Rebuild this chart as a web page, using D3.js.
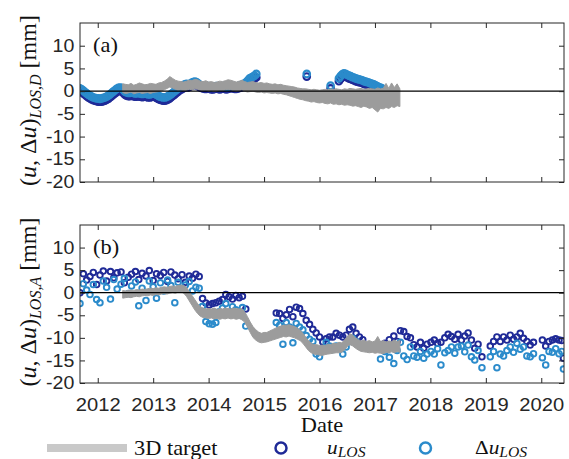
<!DOCTYPE html>
<html><head><meta charset="utf-8">
<script src="https://cdn.jsdelivr.net/npm/d3@7"></script>
<style>body{margin:0;background:#fff} svg{display:block}</style>
</head><body>
<svg id="chart" width="569" height="459"></svg>
<script>
// ---------- axis ticks ----------
const yearTicks = [2012, 2013, 2014, 2015, 2016, 2017, 2018, 2019, 2020];
const valueTicks = [10, 5, 0, -5, -10, -15, -20];

// ---------- panel (a): descending geometry, dense series ----------
// regular acquisition runs: start year, values (mm) every runStep years
const runStep = 0.03;
const runA1Start = 2011.68;
const runA1U = [0.0,-0.2,-0.5,-0.8,-1.1,-1.4,-1.6,-1.8,-2.0,-2.1,-2.2,-2.3,-2.3,-2.3,-2.2,-2.1,-1.9,-1.7,-1.4,-1.1,
  -0.8,-0.5,-0.2,0.0,0.1,0.0,-0.4,-0.8,-1.0,-1.1,-1.1,-1.0,-1.1,-1.2,-1.2,-1.1,-1.2,-1.3,-1.3,-1.2,
  -1.3,-1.4,-1.4,-1.3,-1.2,-1.3,-1.5,-1.7,-1.9,-2.0,-2.1,-2.1,-2.0,-1.8,-1.6,-1.3,-1.0,-0.7,-0.4,-0.1,
  0.2,0.4,0.6,0.8,1.0];
const runA1D = [0.6,0.4,0.1,-0.2,-0.5,-0.8,-1.0,-1.2,-1.4,-1.5,-1.6,-1.6,-1.7,-1.6,-1.5,-1.4,-1.2,-1.0,-0.7,-0.4,
  -0.1,0.2,0.5,0.7,0.8,0.7,0.3,-0.1,-0.3,-0.4,-0.4,-0.3,-0.4,-0.5,-0.5,-0.4,-0.5,-0.6,-0.6,-0.5,
  -0.6,-0.7,-0.7,-0.6,-0.5,-0.6,-0.8,-1.0,-1.2,-1.3,-1.4,-1.4,-1.3,-1.1,-0.9,-0.6,-0.3,0.0,0.3,0.6,
  0.9,1.1,1.3,1.5,1.6];
const runA2Start = 2013.63;
const runA2U = [0.8,1.0,1.2,1.3,1.4,1.3,1.1,0.9,0.7,0.6,0.5,0.5,0.6,0.5,0.4,0.4,0.5,0.6,0.5,0.4,
  0.5,0.6,0.5,0.4,0.5,0.6,0.7,0.6,0.5,0.5,0.6,0.7,0.8,0.9,1.0,1.3,1.7,2.1,2.4,2.6,2.8,3.0];
const runA2D = [1.3,1.6,1.8,2.0,2.1,2.0,1.7,1.4,1.2,1.1,1.0,1.0,1.1,1.0,0.9,0.9,1.0,1.1,1.0,0.9,
  1.0,1.1,1.0,0.9,1.0,1.1,1.2,1.1,1.0,1.0,1.1,1.2,1.3,1.5,1.7,2.0,2.4,2.8,3.0,3.2,3.4,3.8];
const sparseADates = [2015.77, 2016.20];
const sparseAU = [3.2, 0.6];
const sparseAD = [3.8, 1.2];
const runA4Start = 2016.35;
const runA4U = [2.2,2.7,3.1,3.3,3.2,3.0,2.8,2.7,2.5,2.4,2.2,2.1,2.0,1.9,1.8,1.6,1.5,1.4,1.3,1.1,1.0,0.9,0.7,0.5,0.3,0.2,0.1];
const runA4D = [2.8,3.3,3.7,3.9,3.8,3.6,3.4,3.3,3.1,3.0,2.8,2.7,2.6,2.5,2.4,2.2,2.1,2.0,1.9,1.7,1.6,1.5,1.3,1.1,0.9,0.8,0.6];

// 3D target projected on LOS: envelope of daily solutions, every 0.05 yr from 2012.45
const targetStart = 2012.45, targetStep = 0.05;
const targetAHi = [1.6,1.5,1.4,1.7,1.3,1.5,1.8,1.6,1.4,1.5,1.7,1.6,
  1.5,1.8,1.9,2.2,2.6,3.2,2.8,2.4,2.2,2.1,
  2.0,2.2,2.4,2.3,2.6,2.5,2.2,2.1,2.3,2.0,
  2.1,1.9,2.0,2.2,2.1,2.3,2.5,2.4,2.2,2.0,
  2.2,2.4,2.1,1.9,2.0,2.1,1.9,1.8,1.9,1.7,
  1.8,1.6,1.5,1.6,1.4,1.5,1.3,1.2,1.1,1.0,
  0.9,0.7,0.6,0.5,0.5,0.4,0.3,0.4,0.3,0.2,
  0.3,0.4,0.3,0.5,0.4,0.5,0.4,0.3,0.5,0.4,
  0.6,0.5,0.4,0.5,0.6,0.4,0.5,0.6,0.5,0.4,
  0.7,0.5,0.6,1.7,0.6,1.8,0.8,1.6,0.5];
const targetALo = [-0.3,-0.5,-0.4,-0.2,-0.6,-0.4,-0.3,-0.5,-0.4,-0.3,-0.5,-0.3,
  -0.2,-0.1,0.1,0.3,0.6,0.9,0.7,0.4,0.2,0.3,
  0.1,0.2,0.4,0.3,0.5,0.4,0.2,0.1,0.2,0.0,
  0.1,-0.1,0.0,0.2,0.1,0.3,0.4,0.3,0.1,0.0,
  0.1,0.3,0.0,-0.2,-0.1,0.0,-0.2,-0.3,-0.2,-0.4,
  -0.3,-0.4,-0.5,-0.4,-0.6,-0.5,-0.7,-0.8,-1.0,-1.2,
  -1.4,-1.6,-1.8,-1.9,-2.1,-2.2,-2.4,-2.3,-2.5,-2.6,
  -2.5,-2.7,-2.8,-2.6,-2.9,-2.8,-3.0,-2.9,-3.1,-3.0,
  -3.1,-3.3,-3.2,-3.4,-3.6,-3.3,-3.5,-3.8,-3.6,-4.1,
  -4.6,-3.8,-3.9,-3.6,-3.8,-3.4,-3.6,-3.2,-3.4];

// ---------- panel (b): ascending geometry, individual acquisitions ----------
const datesB = [2011.68,2011.74,2011.80,2011.86,2011.92,2011.98,2012.04,2012.10,2012.16,2012.23,2012.29,2012.35,
  2012.42,2012.48,2012.55,2012.61,2012.68,2012.74,2012.80,2012.87,2012.93,2013.00,2013.06,2013.13,2013.19,
  2013.26,2013.32,2013.39,2013.45,2013.52,2013.58,2013.65,2013.71,2013.77,2013.83,
  2013.89,2013.95,2014.01,2014.07,2014.13,2014.19,2014.25,2014.31,2014.37,2014.43,2014.49,2014.55,2014.61,2014.67,
  2015.22,2015.28,2015.34,2015.40,2015.46,2015.52,2015.58,2015.64,2015.70,2015.76,2015.82,2015.88,2015.94,
  2016.00,2016.06,2016.12,2016.18,2016.24,2016.30,2016.36,2016.42,2016.48,2016.54,2016.60,2016.66,2016.72,2016.78,
  2017.10,2017.18,2017.26,2017.34,2017.40,2017.46,2017.52,2017.58,2017.64,2017.70,2017.76,2017.82,2017.88,2017.94,
  2018.01,2018.07,2018.13,2018.19,2018.26,2018.32,2018.38,2018.44,2018.50,2018.56,2018.62,2018.68,2018.74,2018.80,2018.86,2018.93,
  2019.08,2019.14,2019.20,2019.26,2019.32,2019.38,2019.44,2019.50,2019.56,2019.62,2019.68,2019.74,2019.80,2019.86,
  2020.02,2020.08,2020.14,2020.20,2020.26,2020.32,2020.37,2020.40];
const uB = [0.0,4.2,2.8,3.6,4.5,1.8,3.9,4.8,2.6,4.7,3.3,4.4,4.6,2.2,3.4,4.1,4.7,2.9,4.3,3.7,4.9,2.7,4.2,3.8,4.5,
  2.5,4.6,3.9,3.1,4.0,2.3,3.7,3.2,4.1,3.6,
  -1.3,-2.3,-2.7,-2.4,-2.2,-1.9,-1.5,-0.4,-0.9,-1.4,-0.6,-1.1,-0.8,-3.6,
  -4.5,-4.6,-5.7,-4.9,-3.7,-5.3,-3.2,-3.5,-4.6,-6.1,-7.0,-8.1,-8.9,
  -9.8,-10.9,-10.2,-9.8,-9.8,-9.0,-9.4,-9.8,-9.4,-8.1,-7.6,-9.0,-9.8,-10.4,
  -11.6,-11.2,-10.4,-9.6,-10.8,-8.4,-8.6,-9.7,-10.0,-11.5,-12.0,-11.0,-12.3,-11.4,
  -11.0,-10.5,-11.2,-11.0,-10.0,-9.2,-9.7,-10.3,-9.2,-10.5,-9.6,-8.9,-10.5,-12.3,-11.4,-14.2,
  -11.8,-10.8,-9.8,-10.8,-9.8,-10.5,-9.4,-10.3,-9.8,-9.0,-10.1,-10.8,-11.6,-11.0,
  -10.5,-11.8,-10.8,-10.5,-10.2,-10.5,-10.6,-14.5];
const duB = [-2.4,2.0,0.6,-0.4,1.8,-1.5,-2.2,2.6,1.2,-1.4,2.9,0.8,1.9,3.2,-0.2,1.5,2.4,-2.9,1.0,-1.7,2.6,1.3,-1.2,2.2,0.4,
  2.8,1.6,-2.2,2.3,0.9,1.7,2.5,0.4,1.2,1.0,
  -3.0,-6.4,-6.9,-7.0,-6.6,-4.2,-3.4,-2.4,-4.6,-3.1,-3.8,-4.9,-3.3,-7.4,
  -6.6,-7.2,-11.4,-6.6,-7.6,-11.1,-6.8,-7.6,-8.2,-9.5,-10.3,-10.8,-13.6,
  -14.2,-12.4,-11.0,-11.8,-12.6,-11.8,-12.2,-13.6,-12.0,-10.8,-10.1,-10.8,-11.5,-12.0,
  -14.7,-13.0,-14.3,-15.7,-12.8,-11.0,-14.0,-14.8,-12.0,-14.0,-14.3,-13.0,-14.5,-13.6,
  -13.0,-13.6,-12.4,-16.0,-13.3,-12.8,-12.0,-13.4,-12.0,-11.8,-13.1,-11.6,-14.2,-14.9,-12.8,-16.6,
  -14.2,-13.0,-16.6,-13.6,-14.0,-12.8,-12.0,-13.2,-11.2,-12.5,-12.0,-14.0,-14.2,-13.5,
  -14.4,-16.0,-13.0,-13.2,-12.4,-13.5,-13.0,-16.9];
const targetBHi = [0.5,0.4,0.5,0.6,0.5,0.7,0.6,0.8,0.7,0.9,1.0,0.9,
  1.1,1.0,1.2,1.3,1.2,1.4,1.5,1.4,1.6,1.7,
  1.6,1.2,0.3,-0.6,-1.5,-2.4,-3.1,-3.4,-3.6,-3.5,
  -3.6,-3.4,-3.7,-3.5,-3.6,-3.4,-3.5,-3.6,-3.4,-3.5,
  -3.6,-3.5,-4.2,-5.3,-6.5,-7.5,-8.2,-8.7,-9.0,-8.8,
  -8.8,-8.5,-8.2,-7.9,-7.6,-7.4,-7.2,-7.2,-7.1,-7.3,
  -7.5,-7.8,-8.3,-9.0,-9.8,-10.6,-11.2,-11.5,-11.5,-11.7,
  -11.6,-11.7,-11.4,-11.5,-11.2,-11.3,-11.0,-11.1,-10.5,-9.7,
  -9.1,-9.4,-10.0,-10.4,-10.7,-10.5,-10.8,-10.6,-10.9,-10.7,
  -9.7,-10.8,-10.6,-10.9,-10.7,-10.8,-10.5,-10.8,-10.6];
const targetBLo = [-1.2,-1.1,-1.0,-1.1,-0.9,-0.8,-0.9,-0.7,-0.6,-0.7,-0.5,-0.6,
  -0.4,-0.5,-0.3,-0.2,-0.3,-0.1,0.0,-0.1,0.1,0.2,
  -0.1,-0.8,-1.8,-2.8,-3.8,-4.6,-5.2,-5.5,-5.6,-5.7,
  -5.6,-5.8,-5.7,-5.9,-5.7,-5.8,-5.6,-5.8,-5.7,-5.9,
  -5.7,-6.0,-6.5,-7.6,-8.8,-9.9,-10.5,-10.9,-11.1,-11.0,
  -10.9,-10.7,-10.5,-10.3,-10.1,-9.9,-9.7,-9.8,-9.6,-9.8,
  -10.0,-10.3,-10.6,-11.2,-12.0,-12.8,-13.3,-13.6,-13.7,-13.8,
  -13.9,-13.7,-13.6,-13.5,-13.4,-13.3,-13.3,-13.2,-12.7,-11.9,
  -11.5,-11.8,-12.3,-12.7,-13.0,-13.1,-13.2,-13.3,-13.2,-13.4,
  -13.3,-13.4,-13.5,-13.2,-13.3,-13.1,-13.3,-13.0,-13.2];

// ---------- styling ----------
const COL_U = "#1f2a97", COL_DU = "#2b8bcb", COL_TARGET = "#9c9c9c", COL_TARGET_LEG = "#c9c9c9";
const AXIS_COL = "#262626";
const SANS = "'Liberation Sans', Arial, Helvetica, sans-serif";
const SERIF = "'Liberation Serif', 'Times New Roman', serif";
const SX = 1.12; // text horizontal scale

const svg = d3.select("#chart");
const x = d3.scaleLinear().domain([2011.68, 2020.41]).range([80, 564]);

function runPoints(start, vals) { return vals.map((v, i) => ({t: start + runStep * i, v})); }
function pairPoints(dates, vals) { return vals.map((v, i) => ({t: dates[i], v})); }
function envelope(hi, lo) { return hi.map((h, i) => ({t: targetStart + targetStep * i, hi: h, lo: lo[i]})); }

const panels = [
  {
    top: 23, bottom: 182, tag: "(a)", sub: "LOS,D", labels: false, r: 3.3, sw: 2.1,
    u: [].concat(runPoints(runA1Start, runA1U), runPoints(runA2Start, runA2U), pairPoints(sparseADates, sparseAU), runPoints(runA4Start, runA4U)),
    du: [].concat(runPoints(runA1Start, runA1D), runPoints(runA2Start, runA2D), pairPoints(sparseADates, sparseAD), runPoints(runA4Start, runA4D)),
    target: envelope(targetAHi, targetALo)
  },
  {
    top: 225, bottom: 383, tag: "(b)", sub: "LOS,A", labels: true, r: 2.8, sw: 1.9,
    u: pairPoints(datesB, uB),
    du: pairPoints(datesB, duB),
    target: envelope(targetBHi, targetBLo)
  }
];

panels.forEach((p, k) => {
  const y = d3.scaleLinear().domain([-20, 15]).range([p.bottom, p.top]);
  const g = svg.append("g");
  const clipId = "clip" + k;
  svg.append("clipPath").attr("id", clipId).append("rect")
    .attr("x", x.range()[0]).attr("y", p.top)
    .attr("width", x.range()[1] - x.range()[0]).attr("height", p.bottom - p.top);
  const plot = g.append("g").attr("clip-path", `url(#${clipId})`);

  plot.append("g").selectAll("circle").data(p.u).join("circle")
    .attr("cx", d => x(d.t)).attr("cy", d => y(d.v)).attr("r", p.r)
    .attr("fill", "none").attr("stroke", COL_U).attr("stroke-width", p.sw);
  plot.append("g").selectAll("circle").data(p.du).join("circle")
    .attr("cx", d => x(d.t)).attr("cy", d => y(d.v)).attr("r", p.r)
    .attr("fill", "none").attr("stroke", COL_DU).attr("stroke-width", p.sw);

  const area = d3.area().x(d => x(d.t)).y0(d => y(d.lo)).y1(d => y(d.hi));
  plot.append("path").datum(p.target).attr("d", area)
    .attr("fill", COL_TARGET).attr("stroke", COL_TARGET).attr("stroke-width", 1)
    .attr("stroke-linejoin", "round");

  // zero reference
  plot.append("line").attr("x1", x.range()[0]).attr("x2", x.range()[1])
    .attr("y1", y(0)).attr("y2", y(0)).attr("stroke", "#000").attr("stroke-width", 1.2);

  // axes with inward ticks on all four sides
  const bottom = d3.axisBottom(x).tickValues(yearTicks).tickSizeInner(-5).tickSizeOuter(0).tickPadding(15)
    .tickFormat(p.labels ? d3.format("d") : () => "");
  const top = d3.axisTop(x).tickValues(yearTicks).tickSizeInner(-5).tickSizeOuter(0).tickFormat(() => "");
  const left = d3.axisLeft(y).tickValues(valueTicks).tickSizeInner(-5).tickSizeOuter(0).tickPadding(5)
    .tickFormat(d => String(d).replace("−", "-"));
  const right = d3.axisRight(y).tickValues(valueTicks).tickSizeInner(-5).tickSizeOuter(0).tickFormat(() => "");

  const axes = [
    g.append("g").attr("transform", `translate(0,${p.bottom})`).call(bottom),
    g.append("g").attr("transform", `translate(0,${p.top})`).call(top),
    g.append("g").attr("transform", `translate(${x.range()[0]},0)`).call(left),
    g.append("g").attr("transform", `translate(${x.range()[1]},0)`).call(right)
  ];
  axes.forEach(a => {
    a.select(".domain").remove();
    a.selectAll("line").attr("stroke", AXIS_COL).attr("stroke-width", 1);
    a.selectAll("text").attr("fill", AXIS_COL).attr("font-family", SANS).attr("font-size", 18)
      .attr("transform", `scale(${SX},1)`);
  });
  axes[2].selectAll("text").attr("font-size", 17.5);

  g.append("rect").attr("x", x.range()[0]).attr("y", p.top)
    .attr("width", x.range()[1] - x.range()[0]).attr("height", p.bottom - p.top)
    .attr("fill", "none").attr("stroke", AXIS_COL).attr("stroke-width", 1);

  // panel tag
  g.append("text").attr("transform", `translate(93,${p.top + 29}) scale(${SX},1)`)
    .attr("font-family", SERIF).attr("font-size", 20).attr("fill", "#111").text(p.tag);

  // y label: (u, Δu)_{LOS,*} [mm]
  const yl = g.append("text")
    .attr("transform", `translate(36,${(p.top + p.bottom) / 2 - 2}) rotate(-90)`)
    .attr("text-anchor", "middle").attr("font-family", SERIF).attr("font-size", 24).attr("fill", "#111");
  yl.append("tspan").text("(");
  yl.append("tspan").attr("font-style", "italic").text("u");
  yl.append("tspan").text(", Δ");
  yl.append("tspan").attr("font-style", "italic").text("u");
  yl.append("tspan").text(")");
  yl.append("tspan").attr("font-style", "italic").attr("font-size", 16).attr("dy", 5).text(p.sub);
  yl.append("tspan").attr("dy", -5).text(" [mm]");
});

// x label
svg.append("text").attr("transform", `translate(322,432) scale(${SX},1)`).attr("text-anchor", "middle")
  .attr("font-family", SERIF).attr("font-size", 20).attr("fill", "#111").text("Date");

// legend
const leg = svg.append("g");
leg.append("line").attr("x1", 47).attr("x2", 127).attr("y1", 448).attr("y2", 448)
  .attr("stroke", COL_TARGET_LEG).attr("stroke-width", 8);
leg.append("text").attr("transform", `translate(134,455) scale(${SX},1)`)
  .attr("font-family", SERIF).attr("font-size", 20).attr("fill", "#111").text("3D target");
leg.append("circle").attr("cx", 281).attr("cy", 448).attr("r", 5.5)
  .attr("fill", "none").attr("stroke", COL_U).attr("stroke-width", 2.5);
const t1 = leg.append("text").attr("transform", `translate(327,454) scale(${SX},1)`)
  .attr("font-family", SERIF).attr("font-size", 19).attr("fill", "#111");
t1.append("tspan").attr("font-style", "italic").text("u");
t1.append("tspan").attr("font-style", "italic").attr("font-size", 14).attr("dy", 3).text("LOS");
leg.append("circle").attr("cx", 425.5).attr("cy", 448).attr("r", 5.5)
  .attr("fill", "none").attr("stroke", COL_DU).attr("stroke-width", 2.5);
const t2 = leg.append("text").attr("transform", `translate(475,454) scale(${SX},1)`)
  .attr("font-family", SERIF).attr("font-size", 19).attr("fill", "#111");
t2.append("tspan").text("Δ");
t2.append("tspan").attr("font-style", "italic").text("u");
t2.append("tspan").attr("font-style", "italic").attr("font-size", 14).attr("dy", 3).text("LOS");
</script>
</body></html>
